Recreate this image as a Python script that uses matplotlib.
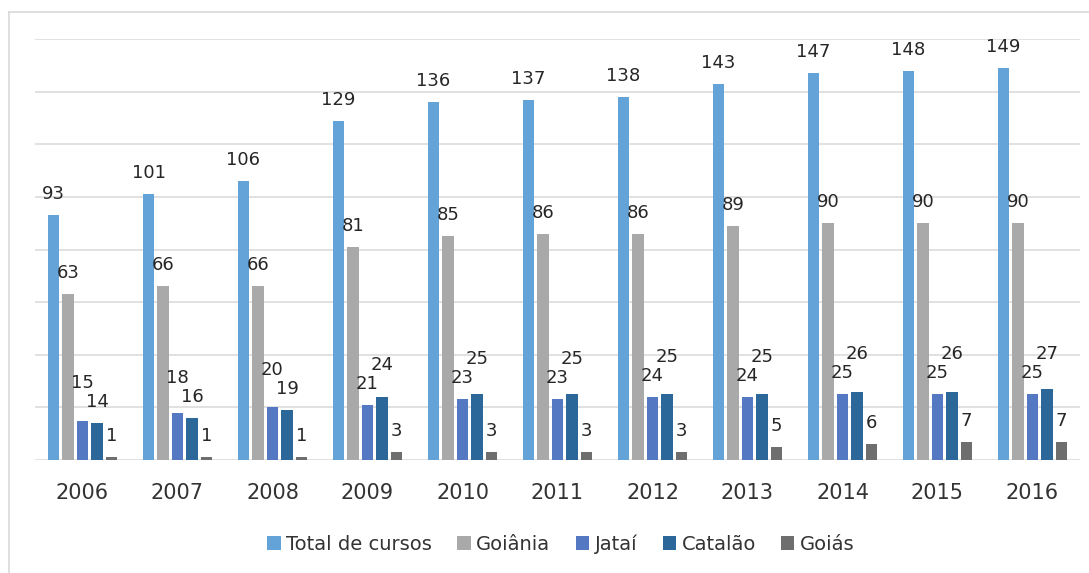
import matplotlib
matplotlib.use("Agg")
import matplotlib.pyplot as plt
from matplotlib.patches import Patch
from matplotlib.lines import Line2D
import numpy as np

years = ["2006", "2007", "2008", "2009", "2010", "2011", "2012", "2013", "2014", "2015", "2016"]
total = [93, 101, 106, 129, 136, 137, 138, 143, 147, 148, 149]
goiania = [63, 66, 66, 81, 85, 86, 86, 89, 90, 90, 90]
jatai = [15, 18, 20, 21, 23, 23, 24, 24, 25, 25, 25]
catalao = [14, 16, 19, 24, 25, 25, 25, 25, 26, 26, 27]
goias = [1, 1, 1, 3, 3, 3, 3, 5, 6, 7, 7]

series_names = ["Total de cursos", "Goiânia", "Jataí", "Catalão", "Goiás"]
series = [total, goiania, jatai, catalao, goias]
colors = ["#64A3D8", "#A9A9A9", "#5479C2", "#2C679A", "#6E6E6E"]

plt.rcParams['font.family'] = ['DejaVu Sans']
W, H = 1089, 573
fig = plt.figure(figsize=(W / 100, H / 100), dpi=100)
ax = fig.add_axes([35 / W, 113 / H, (1080 - 35) / W, (534 - 113) / H])

x = np.arange(len(years))
slot = 14.5 / 95
bw = 11.5 / 95
lab_color = "#262626"
txt_color = "#333333"
fs = 13

for i, (vals, c) in enumerate(zip(series, colors)):
    ax.bar(x + (i - 2) * slot, vals, width=bw, color=c, zorder=3)

ax.set_xlim(-0.5, len(years) - 0.5)
ax.set_ylim(0, 160)
ax.set_yticks(np.arange(0, 161, 20))
ax.yaxis.grid(True, color="#DCDCDC", linewidth=1.2, zorder=0)
ax.set_axisbelow(True)
for s in ["top", "right", "left", "bottom"]:
    ax.spines[s].set_visible(False)
ax.tick_params(axis="y", left=False, labelleft=False)
ax.tick_params(axis="x", bottom=False, pad=13, labelsize=15, labelcolor=txt_color)
ax.set_xticks(x)
ax.set_xticklabels(years)

# data labels
gap = 16      # px between bar top and label baseline
stack = 35    # px above lower bar top for the stacked label
ppu = (534 - 113) / 160.0
for j in range(len(years)):
    offs = [gap] * 5
    # Jataí / Catalão labels collide: stack the taller one above the other
    a, b = jatai[j], catalao[j]
    if a >= b:
        offs[2] = max(gap, (b - a) * ppu + stack)
    else:
        offs[3] = max(gap, (a - b) * ppu + stack)
    for i, vals in enumerate(series):
        ax.annotate(str(vals[j]), (x[j] + (i - 2) * slot, vals[j]),
                    xytext=(0, offs[i]), textcoords="offset pixels",
                    ha="center", va="baseline", fontsize=fs, color=lab_color,
                    annotation_clip=False)

handles = [Patch(facecolor=c, edgecolor="none") for c in colors]
fig.legend(handles, series_names, loc="center", bbox_to_anchor=(561 / W, 1 - 544 / H),
           ncol=5, frameon=False, fontsize=14, labelcolor=txt_color,
           handlelength=0.67, handleheight=0.67, handletextpad=0.3, columnspacing=1.3)

# outer frame (partially visible)
fig.add_artist(Line2D([9 / W, 9 / W], [0, 1 - 12 / H], transform=fig.transFigure,
                      color="#D9D9D9", linewidth=1.2))
fig.add_artist(Line2D([9 / W, 1], [1 - 12 / H, 1 - 12 / H], transform=fig.transFigure,
                      color="#D9D9D9", linewidth=1.2))

fig.savefig("out.png", dpi=100)
